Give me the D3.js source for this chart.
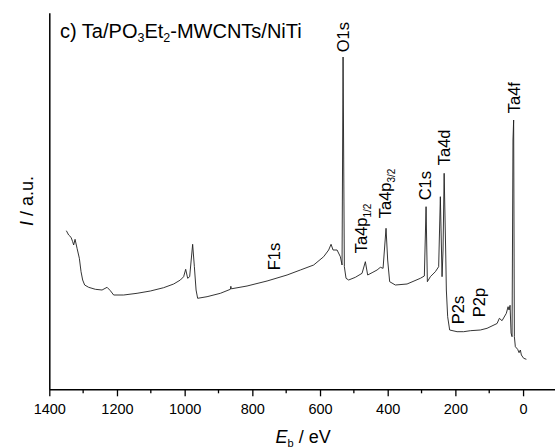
<!doctype html>
<html lang="en">
  <head>
    <meta charset="UTF-8" />
    <title>XPS survey</title>
    <script src="https://d3js.org/d3.v7.min.js"></script>
    <style>
      body { margin: 0; background: #fff; }
      svg { display: block; font-family: "Liberation Sans", Arial, sans-serif; }
    </style>
  </head>
  <body>
    <svg id="chart" width="555" height="448"></svg>
    <script>
      // binding energy (eV) and intensity (a.u.)
      const energy = [
        1349.6, 1342.8, 1335.7, 1331.0, 1328.0, 1323.9, 1318.0, 1311.2, 1306.2, 1301.4,
        1295.5, 1283.7, 1263.9, 1244.1, 1229.3, 1219.6, 1209.8, 1180.3, 1140.7, 1101.4,
        1062.1, 1032.5, 1012.7, 1003.0, 997.0, 991.1, 985.2, 976.4, 971.3, 966.3,
        961.6, 933.8, 894.5, 865.0, 863.5, 862.0, 815.6, 756.5, 697.4, 658.1,
        618.8, 589.2, 574.5, 567.4, 561.5, 549.6, 539.9, 534.9, 531.9, 528.1,
        523.1, 515.4, 495.6, 475.8, 466.0, 459.2, 446.2, 431.4, 421.7, 413.7,
        404.9, 400.1, 394.2, 377.4, 342.8, 303.5, 291.7, 286.6, 282.8, 273.9,
        259.2, 249.4, 244.4, 239.4, 236.4, 233.2, 228.7, 226.7, 222.8, 216.9,
        195.0, 175.5, 155.7, 126.2, 106.4, 76.8, 70.0, 62.1, 49.4, 44.3,
        41.4, 38.4, 35.5, 32.5, 29.8, 27.8, 25.7, 22.8, 16.0, 11.8,
        8.0, 5.0, -1.8, -9.8
      ];
      const intensity = [
        158.6, 154.3, 152.0, 147.6, 144.3, 150.0, 141.0, 131.0, 117.6, 109.3,
        104.3, 102.0, 100.0, 99.3, 102.0, 98.6, 94.3, 94.3, 96.0, 98.3,
        101.6, 105.3, 109.3, 112.6, 120.0, 111.0, 112.6, 145.0, 122.6, 99.3,
        91.0, 92.6, 96.0, 100.0, 103.0, 100.5, 103.3, 108.3, 114.3, 119.3,
        124.3, 132.6, 139.3, 145.0, 139.3, 139.3, 132.6, 124.3, 332.3, 122.6,
        111.0, 109.3, 112.0, 116.0, 127.6, 114.3, 116.6, 119.3, 122.0, 121.0,
        161.0, 129.3, 107.6, 104.3, 105.3, 111.0, 113.3, 182.6, 107.6, 112.6,
        117.6, 122.6, 192.6, 112.6, 139.3, 216.0, 139.3, 99.3, 72.6, 59.3,
        57.6, 57.6, 58.6, 59.3, 61.0, 65.8, 71.0, 68.6, 76.0, 82.6,
        79.3, 84.0, 56.3, 52.6, 249.3, 269.3, 52.6, 42.6, 40.0, 36.6,
        39.3, 34.3, 31.0, 30.0
      ];

      const majorTicks = [1400, 1200, 1000, 800, 600, 400, 200, 0];
      const minorTicks = [1300, 1100, 900, 700, 500, 300, 100];

      // peak annotations: label, subscript, anchor energy, anchor intensity
      const peakNames = ["O1s", "Ta4f", "Ta4d", "C1s", "Ta4p", "Ta4p", "F1s", "P2s", "P2p"];
      const peakSubs = ["", "", "", "", "3/2", "1/2", "", "", ""];
      const peakEnergy = [515, 8, 217, 271, 389, 460, 719, 175, 111];
      const peakLevel = [337, 276, 224, 189, 171, 136, 119, 65, 72];

      const svg = d3.select("#chart");
      const x = d3.scaleLinear().domain([1400, -100]).range([49.3, 556.9]);
      const y = d3.scaleLinear().domain([0, 376.6]).range([389.3, 12.7]);

      const pts = energy.map((e, i) => [e, intensity[i]]);
      const line = d3.line().x(d => x(d[0])).y(d => y(d[1]));

      svg.append("path")
        .datum(pts)
        .attr("d", line)
        .attr("fill", "none")
        .attr("stroke", "#1e1e1e")
        .attr("stroke-width", 0.9)
        .attr("stroke-linejoin", "round");

      // x axis with major + minor ticks
      const xAxis = svg.append("g")
        .attr("transform", `translate(0,${y(0)})`)
        .call(d3.axisBottom(x).tickValues(majorTicks).tickFormat(d3.format("d"))
          .tickSize(7).tickSizeOuter(0).tickPadding(7.5));
      xAxis.select(".domain").attr("stroke", "#000").attr("stroke-width", 1.5);
      xAxis.selectAll(".tick line").attr("stroke", "#000").attr("stroke-width", 1.3);
      xAxis.selectAll(".tick text")
        .attr("font-size", 14.5)
        .attr("font-family", "Liberation Sans, Arial, sans-serif")
        .attr("fill", "#000");

      svg.append("g")
        .selectAll("line")
        .data(minorTicks)
        .join("line")
        .attr("x1", d => x(d)).attr("x2", d => x(d))
        .attr("y1", y(0)).attr("y2", y(0) + 4)
        .attr("stroke", "#000").attr("stroke-width", 1.3);

      // left axis: plain line, no ticks
      const yAxis = svg.append("g")
        .attr("transform", `translate(${x(1400)},0)`)
        .call(d3.axisLeft(y).tickValues([]).tickSizeOuter(0));
      yAxis.select(".domain").attr("stroke", "#000").attr("stroke-width", 1.5);

      // axis titles
      const xt = svg.append("text")
        .attr("x", (x.range()[0] + x.range()[1]) / 2)
        .attr("y", 443)
        .attr("text-anchor", "middle")
        .attr("font-size", 18);
      xt.append("tspan").attr("font-style", "italic").text("E");
      xt.append("tspan").attr("font-size", 11).attr("dy", 4).text("b");
      xt.append("tspan").attr("dy", -4).text(" / eV");

      const yt = svg.append("text")
        .attr("transform", `translate(33,${(y.range()[0] + y.range()[1]) / 2}) rotate(-90)`)
        .attr("text-anchor", "middle")
        .attr("font-size", 18);
      yt.append("tspan").attr("font-style", "italic").text("I");
      yt.append("tspan").text(" / a.u.");

      // panel title
      const title = svg.append("text")
        .attr("x", 60)
        .attr("y", 37.5)
        .attr("font-size", 20);
      title.append("tspan").text("c) Ta/PO");
      title.append("tspan").attr("font-size", 12.5).attr("dy", 4).text("3");
      title.append("tspan").attr("dy", -4).text("Et");
      title.append("tspan").attr("font-size", 12.5).attr("dy", 4).text("2");
      title.append("tspan").attr("dy", -4).text("-MWCNTs/NiTi");

      // rotated peak labels
      peakNames.forEach((name, i) => {
        const t = svg.append("text")
          .attr("transform", `translate(${x(peakEnergy[i])},${y(peakLevel[i])}) rotate(-90)`)
          .attr("font-size", 16.5);
        t.append("tspan").text(name);
        if (peakSubs[i]) {
          t.append("tspan").attr("font-size", 10).attr("dy", 4).text(peakSubs[i]);
        }
      });
    </script>
  </body>
</html>
